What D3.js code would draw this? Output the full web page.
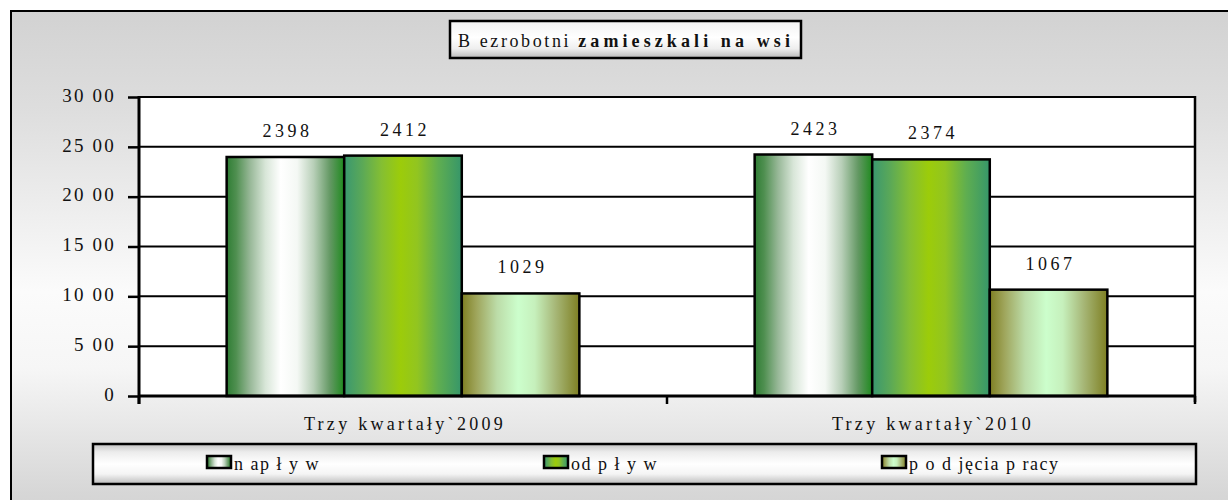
<!DOCTYPE html>
<html>
<head>
<meta charset="utf-8">
<script src="https://cdn.jsdelivr.net/npm/d3@7"></script>
<style>
  body { margin: 0; background: #fff; }
  text { font-family: "Liberation Serif", "Times New Roman", serif; fill: #111; }
</style>
</head>
<body>
<svg id="chart" width="1228" height="500"></svg>
<script>
// Data
const categories = ["Trzy kwartały`2009", "Trzy kwartały`2010"];
const seriesNames = ["napływ", "odpływ", "podjęcia pracy"];
const napływ = [2398, 2423];
const odpływ = [2412, 2374];
const podjecia = [1029, 1067];
const yTicks = [0, 500, 1000, 1500, 2000, 2500, 3000];
const yTickLabels = ["0", "5 00", "10 00", "15 00", "20 00", "25 00", "30 00"];
const legendLabels = ["n ap ł y w", "od p ł y w", "p o d jęcia p racy"];

const seriesValues = [napływ, odpływ, podjecia];

const svg = d3.select("#chart");
const defs = svg.append("defs");

// gradients
function hGrad(id, stops) {
    const g = defs.append("linearGradient").attr("id", id)
        .attr("x1", 0).attr("x2", 1).attr("y1", 0).attr("y2", 0);
    stops.forEach(s => g.append("stop").attr("offset", s[0]).attr("stop-color", s[1]));
}
function vGrad(id, stops) {
    const g = defs.append("linearGradient").attr("id", id)
        .attr("x1", 0).attr("x2", 0).attr("y1", 0).attr("y2", 1);
    stops.forEach(s => g.append("stop").attr("offset", s[0]).attr("stop-color", s[1]));
}

hGrad("g0", [[0, "#2f7d34"], [0.08, "#4f8f50"], [0.2, "#98b898"], [0.33, "#d8e6d8"], [0.46, "#ffffff"], [0.6, "#f4f8f4"], [0.74, "#b8cfb8"], [0.88, "#639863"], [1, "#1f8a1f"]]);
hGrad("g1", [[0, "#3a9870"], [0.15, "#5aa858"], [0.32, "#85bf32"], [0.48, "#9ccc0a"], [0.62, "#92c520"], [0.8, "#5fae50"], [1, "#36966a"]]);
hGrad("g2", [[0, "#7e7f22"], [0.12, "#9ea45a"], [0.3, "#bcdca8"], [0.48, "#ccfecc"], [0.62, "#c6f0bc"], [0.8, "#a6b676"], [1, "#7e7f22"]]);
vGrad("bgGrad", [[0, "#d2d2d2"], [0.2, "#dedede"], [0.55, "#fbfbfb"], [0.7, "#f6f6f6"], [0.95, "#d6d6d6"], [1, "#d4d4d4"]]);
vGrad("titleGrad", [[0, "#f2f2f2"], [0.45, "#ffffff"], [0.75, "#eeeeee"], [1, "#b8b8b8"]]);
vGrad("legendGrad", [[0, "#c4c4c4"], [0.2, "#ececec"], [0.5, "#ffffff"], [0.75, "#f4f4f4"], [1, "#bcbcbc"]]);

const fills = ["url(#g0)", "url(#g1)", "url(#g2)"];

// outer frame
svg.append("rect")
    .attr("x", 11).attr("y", 11)
    .attr("width", 1240).attr("height", 510)
    .attr("fill", "url(#bgGrad)")
    .attr("stroke", "#000").attr("stroke-width", 2);

// plot area
const plot = { left: 139, right: 1195, top: 97, bottom: 396 };

svg.append("rect")
    .attr("x", plot.left).attr("y", plot.top)
    .attr("width", plot.right - plot.left).attr("height", plot.bottom - plot.top)
    .attr("fill", "#fff");

const y = d3.scaleLinear().domain([0, 3000]).range([plot.bottom, plot.top]);
const x0 = d3.scaleBand().domain(categories).range([plot.left, plot.right]);
const groupPad = x0.bandwidth() * 0.166;
const x1 = d3.scaleBand().domain(seriesNames).range([groupPad, x0.bandwidth() - groupPad]);

// gridlines
svg.append("g").selectAll("line")
    .data(yTicks.filter(d => d > 0))
    .enter().append("line")
    .attr("x1", plot.left).attr("x2", plot.right)
    .attr("y1", d => y(d)).attr("y2", d => y(d))
    .attr("stroke", "#000").attr("stroke-width", 2);

// right border
svg.append("line")
    .attr("x1", plot.right).attr("x2", plot.right)
    .attr("y1", plot.top - 1).attr("y2", plot.bottom + 6)
    .attr("stroke", "#000").attr("stroke-width", 2.5);

// y axis
const yAxis = d3.axisLeft(y)
    .tickValues(yTicks)
    .tickSize(11)
    .tickPadding(12)
    .tickFormat((d, i) => yTickLabels[i]);

const yg = svg.append("g")
    .attr("transform", `translate(${plot.left},0)`)
    .call(yAxis);
yg.select(".domain").attr("stroke", "#000").attr("stroke-width", 3)
    .attr("d", `M0,${plot.top - 1}V${plot.bottom + 8}`);
yg.selectAll(".tick line").attr("stroke", "#000").attr("stroke-width", 2.5);
yg.selectAll(".tick text")
    .attr("fill", "#111")
    .style("font-family", "Liberation Serif, serif")
    .style("font-size", "19px")
    .style("letter-spacing", "2.2px")
    .attr("dy", "0.22em");

// bars
const groups = svg.append("g").selectAll("g")
    .data(categories)
    .enter().append("g")
    .attr("transform", d => `translate(${x0(d)},0)`);

groups.selectAll("rect")
    .data((c, ci) => seriesNames.map((s, si) => ({ s, si, ci, v: seriesValues[si][ci] })))
    .enter().append("rect")
    .attr("x", d => x1(d.s))
    .attr("y", d => y(d.v))
    .attr("width", x1.bandwidth())
    .attr("height", d => y(0) - y(d.v))
    .attr("fill", d => fills[d.si])
    .attr("stroke", "#000")
    .attr("stroke-width", 2.5);

groups.selectAll("text.val")
    .data((c, ci) => seriesNames.map((s, si) => ({ s, si, ci, v: seriesValues[si][ci] })))
    .enter().append("text")
    .attr("class", "val")
    .attr("x", d => x1(d.s) + x1.bandwidth() / 2 + 2)
    .attr("y", d => y(d.v) - 20)
    .attr("text-anchor", "middle")
    .style("font-size", "18px")
    .style("letter-spacing", "3.5px")
    .text(d => d.v);

// x axis line and ticks
svg.append("line")
    .attr("x1", plot.left).attr("x2", plot.right)
    .attr("y1", plot.bottom).attr("y2", plot.bottom)
    .attr("stroke", "#000").attr("stroke-width", 3);

svg.append("g").selectAll("line")
    .data([plot.left, plot.left + x0.bandwidth(), plot.right])
    .enter().append("line")
    .attr("x1", d => d).attr("x2", d => d)
    .attr("y1", plot.bottom).attr("y2", plot.bottom + 8)
    .attr("stroke", "#000").attr("stroke-width", 2.5);

svg.append("g").selectAll("text")
    .data(categories)
    .enter().append("text")
    .attr("x", d => x0(d) + x0.bandwidth() / 2 + 2)
    .attr("y", 430)
    .attr("text-anchor", "middle")
    .style("font-size", "18px")
    .style("letter-spacing", "3.3px")
    .text(d => d);

// title
svg.append("rect")
    .attr("x", 450).attr("y", 21)
    .attr("width", 351).attr("height", 37)
    .attr("fill", "url(#titleGrad)")
    .attr("stroke", "#000").attr("stroke-width", 2.5);

const title = svg.append("text")
    .attr("x", 458).attr("y", 47)
    .style("font-size", "18px");
title.append("tspan").style("letter-spacing", "2.6px").text("B ezrobotni ");
title.append("tspan").style("font-weight", "bold").style("letter-spacing", "4.1px").text("zamieszkali na wsi");

// legend
svg.append("rect")
    .attr("x", 93).attr("y", 444)
    .attr("width", 1103).attr("height", 40)
    .attr("fill", "url(#legendGrad)")
    .attr("stroke", "#000").attr("stroke-width", 2.5);

const legendX = [207, 544, 882];
const legend = svg.append("g").selectAll("g")
    .data(seriesNames)
    .enter().append("g")
    .attr("transform", (d, i) => `translate(${legendX[i]},456)`);

legend.append("rect")
    .attr("width", 24).attr("height", 12)
    .attr("fill", (d, i) => fills[i])
    .attr("stroke", "#000").attr("stroke-width", 2.5);

legend.append("text")
    .attr("x", 27).attr("y", 14)
    .style("font-size", "18px")
    .style("letter-spacing", "1.5px")
    .text((d, i) => legendLabels[i]);
</script>
</body>
</html>
